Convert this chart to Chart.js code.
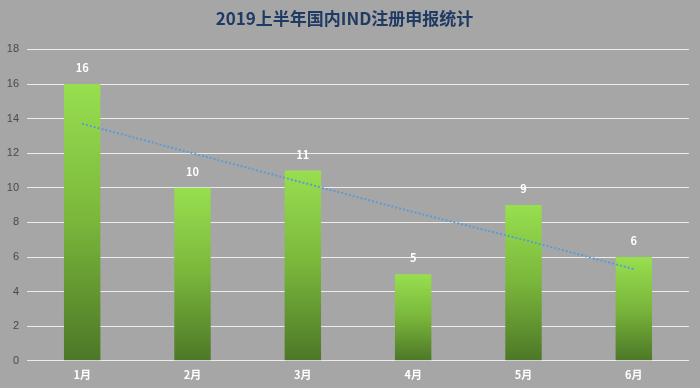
<!DOCTYPE html>
<html lang="zh">
<head>
    <meta charset="UTF-8">
    <title>2019上半年国内IND注册申报统计</title>
    <script src="https://cdn.jsdelivr.net/npm/chart.js"></script>
    <style>
        html, body { margin: 0; padding: 0; background: #a6a6a6; }
        #wrap { width: 700px; height: 388px; position: relative; }
    </style>
</head>
<body>
    <div id="wrap"><canvas id="indChart"></canvas></div>

    <script>
        const months = ["1月", "2月", "3月", "4月", "5月", "6月"];
        const filings = [16, 10, 11, 5, 9, 6];
        // dotted trend line
        const trend = [13.7, 12.0, 10.3, 8.6, 7.0, 5.3];
        const yTicks = [0, 2, 4, 6, 8, 10, 12, 14, 16, 18];

        const cjk = "'Noto Sans CJK SC', 'Noto Sans', sans-serif";

        function barGradient(ctx) {
            const chart = ctx.chart;
            const y = chart.scales.y;
            if (!y || ctx.parsed == null) return "#7fbf3f";
            const top = y.getPixelForValue(ctx.parsed.y);
            const bottom = y.getPixelForValue(0);
            if (!isFinite(top) || !isFinite(bottom)) return "#7fbf3f";
            const g = chart.ctx.createLinearGradient(0, top, 0, bottom);
            g.addColorStop(0, "#98df4f");
            g.addColorStop(0.5, "#79b63b");
            g.addColorStop(1, "#4d7727");
            return g;
        }

        // white value labels above the bars (bars are dataset 1)
        const valueLabels = {
            id: "valueLabels",
            afterDatasetsDraw(chart) {
                const meta = chart.getDatasetMeta(1);
                const c = chart.ctx;
                c.save();
                c.fillStyle = "#ffffff";
                c.font = "bold 11px " + cjk;
                c.textAlign = "center";
                c.textBaseline = "middle";
                meta.data.forEach((bar, i) => {
                    c.fillText(filings[i], bar.x, bar.y - 16);
                });
                c.restore();
            }
        };

        new Chart(document.getElementById("indChart"), {
            data: {
                labels: months,
                datasets: [
                    {
                        type: "line",
                        data: trend,
                        borderColor: "#5b9bd5",
                        borderWidth: 2,
                        borderDash: [2, 2],
                        pointRadius: 0,
                        fill: false,
                        order: 0
                    },
                    {
                        type: "bar",
                        data: filings,
                        backgroundColor: barGradient,
                        barPercentage: 0.33,
                        categoryPercentage: 1,
                        order: 1
                    }
                ]
            },
            options: {
                responsive: true,
                maintainAspectRatio: false,
                animation: false,
                layout: { padding: { left: 0, right: 11, top: 0, bottom: 0 } },
                plugins: {
                    legend: { display: false },
                    tooltip: { enabled: false },
                    title: {
                        display: true,
                        text: "2019上半年国内IND注册申报统计",
                        color: "#1f3a63",
                        font: { family: cjk, size: 17, weight: "bold" },
                        padding: { top: 8, bottom: 21 }
                    }
                },
                scales: {
                    x: {
                        grid: { display: false, drawTicks: false },
                        border: { display: false },
                        ticks: {
                            color: "#ffffff",
                            font: { family: cjk, size: 11, weight: "bold" },
                            padding: 7
                        }
                    },
                    y: {
                        min: 0,
                        max: 18,
                        afterFit(scale) { scale.width = 27; },
                        afterBuildTicks(scale) { scale.ticks = yTicks.map(v => ({ value: v })); },
                        grid: { color: "#ececec", lineWidth: 1, drawTicks: false },
                        border: { display: false },
                        ticks: {
                            color: "#4a4a4a",
                            font: { family: "'Liberation Sans', sans-serif", size: 11 },
                            padding: 8
                        }
                    }
                }
            },
            plugins: [valueLabels]
        });
    </script>
</body>
</html>
